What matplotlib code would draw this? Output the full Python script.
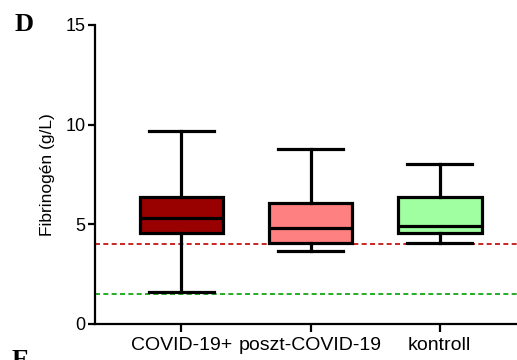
import matplotlib.pyplot as plt

plt.rcParams['font.family'] = ['Liberation Sans', 'DejaVu Sans']

groups = ['COVID-19+', 'poszt-COVID-19', 'kontroll']
whisk_lo = [1.59, 3.65, 4.05]
q1 = [4.58, 4.08, 4.55]
median = [5.30, 4.82, 4.92]
q3 = [6.39, 6.09, 6.36]
whisk_hi = [9.68, 8.77, 8.01]
colors = ['#990000', '#ff8080', '#a0ffa0']
ref_upper = 4.0
ref_lower = 1.5

fig = plt.figure(figsize=(5.17, 3.6), dpi=100)
ax = fig.add_axes([95 / 517, 0.1, 1 - 95 / 517 + 0.02, 0.9306 - 0.1])

stats = []
for i, g in enumerate(groups):
    stats.append({'label': g, 'whislo': whisk_lo[i], 'q1': q1[i], 'med': median[i],
                  'q3': q3[i], 'whishi': whisk_hi[i], 'fliers': []})

lw = 2.3
bp = ax.bxp(stats, positions=[1, 2, 3], widths=0.65, patch_artist=True,
            showfliers=False,
            boxprops=dict(linewidth=lw, edgecolor='black'),
            medianprops=dict(color='black', linewidth=lw),
            whiskerprops=dict(color='black', linewidth=lw),
            capprops=dict(color='black', linewidth=lw),
            capwidths=0.5)
for patch, c in zip(bp['boxes'], colors):
    patch.set_facecolor(c)

ax.axhline(ref_upper, color='#c00000', linestyle=(0, (3, 2)), linewidth=1.2, zorder=0)
ax.axhline(ref_lower, color='#00a000', linestyle=(0, (3, 2)), linewidth=1.2, zorder=0)

ax.set_xlim(0.33, 3.68)
ax.set_ylim(0, 15)
ax.set_yticks([0, 5, 10, 15])
ax.set_xticks([1, 2, 3])
ax.set_xticklabels(groups, fontsize=14)
ax.tick_params(axis='y', labelsize=13, width=1.6, length=5, pad=2)
ax.tick_params(axis='x', width=1.6, length=6, pad=3)
ax.set_ylabel('Fibrinogén (g/L)', fontsize=12.5, labelpad=7)

ax.spines['top'].set_visible(False)
ax.spines['right'].set_visible(False)
ax.spines['left'].set_linewidth(1.6)
ax.spines['bottom'].set_linewidth(1.6)

fig.text(15 / 517, 1 - 31 / 360, 'D', fontsize=19, fontweight='bold',
         family='Liberation Serif', ha='left', va='baseline')
fig.text(12 / 517, -7 / 360, 'E', fontsize=19, fontweight='bold',
         family='Liberation Serif', ha='left', va='baseline')

fig.savefig('out.png', dpi=100)
